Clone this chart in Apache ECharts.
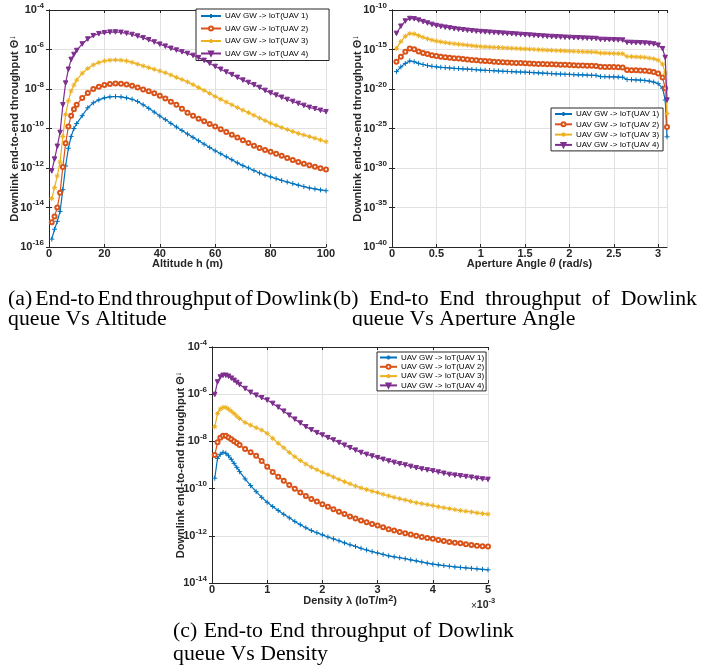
<!DOCTYPE html>
<html>
<head>
<meta charset="utf-8">
<script src="https://cdn.jsdelivr.net/npm/echarts@6.0.0/dist/echarts.min.js"></script>
<style>
html, body { margin: 0; padding: 0; background: #fff; }
#chart { width: 722px; height: 670px; }
</style>
</head>
<body>
<div id="chart"></div>
<script>
var seriesNames = ['UAV GW -> IoT(UAV 1)', 'UAV GW -> IoT(UAV 2)', 'UAV GW -> IoT(UAV 3)', 'UAV GW -> IoT(UAV 4)'];

// y values below are log10 of the throughput (the axes are logarithmic)

// (a) altitude h (m)
var altitudeA = [1, 2, 3, 4, 5, 6, 7, 8, 9, 10, 12, 14, 16, 18, 20, 22, 24, 26, 28, 30, 32, 34, 36, 38, 40, 42, 44, 46, 48, 50,
    52, 54, 56, 58, 60, 62, 64, 66, 68, 70, 72, 74, 76, 78, 80, 82, 84, 86, 88, 90, 92, 94, 96, 98, 100];
var uav1A = [-15.6, -15.1, -14.7, -14.2, -13.1, -11.9, -11.0, -10.4, -10.0, -9.75, -9.35, -8.95, -8.7, -8.55, -8.45, -8.4, -8.38, -8.4, -8.45, -8.52,
    -8.63, -8.8, -8.98, -9.17, -9.37, -9.55, -9.74, -9.92, -10.1, -10.28, -10.45, -10.62, -10.79, -10.96, -11.13, -11.28, -11.43, -11.58, -11.74, -11.88,
    -12.0, -12.13, -12.25, -12.36, -12.45, -12.54, -12.63, -12.71, -12.79, -12.87, -12.94, -13.01, -13.06, -13.11, -13.15];
var uav2A = [-14.75, -14.45, -14.0, -13.25, -11.95, -10.75, -9.9, -9.35, -9.02, -8.8, -8.45, -8.2, -8.0, -7.88, -7.8, -7.75, -7.72, -7.73, -7.77, -7.83,
    -7.92, -8.02, -8.12, -8.22, -8.34, -8.48, -8.64, -8.8, -9.0, -9.2, -9.36, -9.5, -9.63, -9.77, -9.9, -10.04, -10.18, -10.32, -10.46, -10.6,
    -10.73, -10.87, -10.99, -11.09, -11.18, -11.28, -11.38, -11.49, -11.6, -11.7, -11.78, -11.86, -11.94, -12.01, -12.07];
var uav3A = [-13.55, -13.0, -12.4, -11.7, -10.4, -9.3, -8.6, -8.1, -7.8, -7.55, -7.2, -6.96, -6.78, -6.66, -6.58, -6.54, -6.53, -6.54, -6.58, -6.65,
    -6.74, -6.83, -6.92, -7.0, -7.09, -7.18, -7.29, -7.41, -7.52, -7.64, -7.78, -7.93, -8.07, -8.22, -8.38, -8.52, -8.66, -8.8, -8.94, -9.07,
    -9.2, -9.33, -9.47, -9.6, -9.73, -9.84, -9.95, -10.05, -10.15, -10.25, -10.33, -10.41, -10.49, -10.58, -10.67];
var uav4A = [-12.15, -11.55, -10.9, -10.2, -8.8, -7.7, -7.0, -6.5, -6.25, -6.05, -5.72, -5.47, -5.3, -5.2, -5.15, -5.12, -5.11, -5.13, -5.18, -5.24,
    -5.32, -5.41, -5.51, -5.62, -5.73, -5.83, -5.94, -6.03, -6.12, -6.2, -6.3, -6.41, -6.55, -6.7, -6.86, -7.0, -7.14, -7.27, -7.41, -7.55,
    -7.67, -7.79, -7.92, -8.07, -8.2, -8.31, -8.42, -8.53, -8.63, -8.73, -8.83, -8.93, -9.0, -9.08, -9.15];

// (b) aperture angle theta (rad/s)
var angleB = [0.05, 0.1, 0.15, 0.2, 0.25, 0.3, 0.35, 0.4, 0.45, 0.5, 0.55, 0.6, 0.65, 0.7, 0.75, 0.8, 0.85, 0.9, 0.95, 1,
    1.05, 1.1, 1.15, 1.2, 1.25, 1.3, 1.35, 1.4, 1.45, 1.5, 1.55, 1.6, 1.65, 1.7, 1.75, 1.8, 1.85, 1.9, 1.95, 2,
    2.05, 2.1, 2.15, 2.2, 2.25, 2.3, 2.35, 2.4, 2.45, 2.5, 2.55, 2.6, 2.65, 2.7, 2.75, 2.8, 2.85, 2.9, 2.95, 3,
    3.05, 3.08, 3.1];
var uav1B = [-17.8, -17.2, -16.76, -16.45, -16.55, -16.75, -16.9, -17.03, -17.12, -17.19, -17.25, -17.3, -17.34, -17.38, -17.41, -17.45, -17.48, -17.52, -17.56, -17.6,
    -17.63, -17.66, -17.69, -17.72, -17.75, -17.78, -17.8, -17.83, -17.85, -17.87, -17.9, -17.93, -17.96, -17.99, -18.02, -18.05, -18.08, -18.1, -18.13, -18.15,
    -18.18, -18.2, -18.22, -18.24, -18.26, -18.28, -18.43, -18.44, -18.46, -18.47, -18.49, -18.51, -18.8, -18.82, -18.85, -18.88, -18.92, -19.0, -19.12, -19.32,
    -19.9, -21.4, -26.05];
var uav2B = [-16.55, -15.92, -15.3, -14.88, -14.97, -15.25, -15.43, -15.58, -15.72, -15.83, -15.92, -15.99, -16.05, -16.1, -16.15, -16.2, -16.25, -16.32, -16.37, -16.42,
    -16.46, -16.5, -16.54, -16.58, -16.61, -16.64, -16.67, -16.7, -16.72, -16.74, -16.77, -16.79, -16.82, -16.84, -16.86, -16.88, -16.9, -16.92, -16.94, -16.96,
    -16.99, -17.01, -17.03, -17.05, -17.07, -17.09, -17.19, -17.2, -17.21, -17.23, -17.25, -17.27, -17.6, -17.62, -17.64, -17.67, -17.7, -17.76, -17.86, -18.05,
    -18.55, -19.9, -24.8];
var uav3B = [-14.86, -14.0, -13.32, -12.98, -13.02, -13.25, -13.45, -13.65, -13.8, -13.93, -14.03, -14.12, -14.2, -14.27, -14.33, -14.39, -14.45, -14.52, -14.58, -14.63,
    -14.66, -14.69, -14.72, -14.75, -14.78, -14.81, -14.84, -14.87, -14.9, -14.93, -14.96, -14.99, -15.02, -15.05, -15.08, -15.1, -15.13, -15.15, -15.18, -15.2,
    -15.23, -15.25, -15.28, -15.3, -15.32, -15.34, -15.45, -15.46, -15.48, -15.5, -15.52, -15.54, -15.88, -15.9, -15.93, -15.96, -16.0, -16.08, -16.18, -16.35,
    -16.85, -18.0, -23.1];
var uav4B = [-12.96, -12.05, -11.4, -11.08, -11.12, -11.28, -11.47, -11.65, -11.82, -11.97, -12.08, -12.18, -12.27, -12.36, -12.44, -12.5, -12.57, -12.63, -12.68, -12.73,
    -12.77, -12.81, -12.85, -12.89, -12.93, -12.97, -13.01, -13.05, -13.09, -13.13, -13.17, -13.21, -13.25, -13.29, -13.33, -13.36, -13.39, -13.42, -13.45, -13.47,
    -13.5, -13.52, -13.55, -13.57, -13.59, -13.61, -13.72, -13.73, -13.75, -13.77, -13.79, -13.81, -14.1, -14.11, -14.13, -14.15, -14.18, -14.22, -14.3, -14.45,
    -14.9, -16.0, -21.4];

// (c) density lambda (IoT/m^2), in units of 1e-3
var densityC = [0.05, 0.1, 0.15, 0.2, 0.25, 0.3, 0.35, 0.4, 0.45, 0.5, 0.6, 0.7, 0.8, 0.9, 1.0, 1.1, 1.2, 1.3, 1.4, 1.5,
    1.6, 1.7, 1.8, 1.9, 2.0, 2.1, 2.2, 2.3, 2.4, 2.5, 2.6, 2.7, 2.8, 2.9, 3.0, 3.1, 3.2, 3.3, 3.4, 3.5,
    3.6, 3.7, 3.8, 3.9, 4.0, 4.1, 4.2, 4.3, 4.4, 4.5, 4.6, 4.7, 4.8, 4.9, 5.0];
var uav1C = [-9.56, -8.72, -8.55, -8.46, -8.5, -8.61, -8.76, -8.93, -9.1, -9.28, -9.59, -9.87, -10.13, -10.37, -10.58, -10.76, -10.93, -11.09, -11.24, -11.39,
    -11.53, -11.66, -11.78, -11.87, -11.96, -12.05, -12.13, -12.21, -12.3, -12.38, -12.45, -12.53, -12.6, -12.67, -12.73, -12.79, -12.85, -12.89, -12.93, -12.97,
    -13.02, -13.06, -13.11, -13.16, -13.2, -13.23, -13.26, -13.29, -13.32, -13.34, -13.36, -13.38, -13.4, -13.42, -13.44];
var uav2C = [-8.58, -8.04, -7.85, -7.76, -7.76, -7.83, -7.91, -7.99, -8.07, -8.15, -8.32, -8.46, -8.61, -8.83, -9.07, -9.3, -9.5, -9.67, -9.85, -10.01,
    -10.16, -10.31, -10.44, -10.55, -10.66, -10.77, -10.88, -10.98, -11.08, -11.18, -11.27, -11.35, -11.43, -11.5, -11.56, -11.64, -11.72, -11.78, -11.84, -11.89,
    -11.95, -12.0, -12.05, -12.09, -12.13, -12.18, -12.22, -12.26, -12.29, -12.32, -12.36, -12.39, -12.42, -12.44, -12.45];
var uav3C = [-7.38, -6.82, -6.63, -6.56, -6.56, -6.63, -6.72, -6.82, -6.93, -7.03, -7.2, -7.31, -7.42, -7.52, -7.66, -7.87, -8.08, -8.27, -8.47, -8.65,
    -8.81, -8.96, -9.09, -9.2, -9.31, -9.41, -9.51, -9.61, -9.71, -9.8, -9.89, -9.97, -10.04, -10.11, -10.17, -10.24, -10.31, -10.37, -10.43, -10.48,
    -10.54, -10.6, -10.64, -10.68, -10.72, -10.77, -10.81, -10.85, -10.89, -10.93, -10.96, -10.99, -11.03, -11.06, -11.08];
var uav4C = [-6.01, -5.48, -5.27, -5.2, -5.2, -5.24, -5.32, -5.41, -5.5, -5.59, -5.76, -5.92, -6.04, -6.15, -6.25, -6.39, -6.55, -6.72, -6.89, -7.06,
    -7.22, -7.38, -7.51, -7.63, -7.73, -7.84, -7.94, -8.05, -8.16, -8.27, -8.37, -8.47, -8.55, -8.62, -8.69, -8.76, -8.83, -8.89, -8.95, -9.0,
    -9.06, -9.12, -9.17, -9.21, -9.25, -9.3, -9.35, -9.4, -9.43, -9.46, -9.49, -9.52, -9.56, -9.59, -9.61];

var captionA = ['(a) End-to End throughput of Dowlink', 'queue Vs Altitude'];
var captionB = ['(b) End-to End throughput of Dowlink', 'queue Vs Aperture Angle'];
var captionC = ['(c) End-to End throughput of Dowlink', 'queue Vs Density'];

var colors = ['#0072BD', '#D95319', '#EDB120', '#7E2F8E'];
var symbols = [
    'path://M0,3L6,3M3,0L3,6',
    'emptyCircle',
    'path://M3,0L3,6M0,3L6,3M0.9,0.9L5.1,5.1M5.1,0.9L0.9,5.1',
    'path://M0,0L6,0L3,5.2Z'
];
var symbolSizes = [5, 4, 5, 4.5];

var F = '"Liberation Sans", Arial, Helvetica, sans-serif';
var SERIF = '"Liberation Serif", "Times New Roman", serif';
var ink = '#262626';

function makeSeries(xs, ys, k, idx) {
    return {
        type: 'line',
        name: seriesNames[k],
        xAxisIndex: idx,
        yAxisIndex: idx,
        data: xs.map(function (x, i) { return [x, ys[i]]; }),
        symbol: symbols[k],
        symbolSize: symbolSizes[k],
        showSymbol: true,
        lineStyle: { color: colors[k], width: 1.2 },
        itemStyle: { color: colors[k], borderColor: colors[k], borderWidth: 1 },
        animation: false,
        silent: true,
        z: 3 + k
    };
}

var tickRich = {
    b: { fontSize: 11, fontWeight: 'bold', fontFamily: F, color: ink, lineHeight: 14, verticalAlign: 'bottom' },
    s: { fontSize: 8, fontWeight: 'bold', fontFamily: F, color: ink, lineHeight: 8, verticalAlign: 'top' }
};
var nameRich = {
    s: { fontSize: 9, fontWeight: 'bold', fontFamily: F, color: ink, lineHeight: 9, verticalAlign: 'top' },
    i: { fontSize: 12, fontStyle: 'italic', fontFamily: SERIF, color: ink, lineHeight: 14 }
};

function xAxisPair(gi, min, max, interval, name, gap) {
    var bottom = {
        type: 'value', gridIndex: gi, position: 'bottom', min: min, max: max, interval: interval,
        name: name, nameLocation: 'middle', nameGap: gap, nameMoveOverlap: false,
        nameTextStyle: { fontSize: 11, fontWeight: 'bold', fontFamily: F, color: ink, lineHeight: 14, rich: nameRich },
        axisLine: { show: true, lineStyle: { color: ink, width: 1 } },
        axisTick: { show: true, inside: true, length: 3, lineStyle: { color: ink } },
        axisLabel: { margin: 1, fontSize: 11, fontWeight: 'bold', fontFamily: F, color: ink, showMaxLabel: max % interval === 0 },
        splitLine: { show: true, lineStyle: { color: '#e2e2e2', width: 1 } }
    };
    var top = {
        type: 'value', gridIndex: gi, position: 'top', min: min, max: max, interval: interval,
        axisLine: { show: true, lineStyle: { color: ink, width: 1 } },
        axisTick: { show: true, inside: true, length: 3, lineStyle: { color: ink } },
        axisLabel: { show: false },
        splitLine: { show: false }
    };
    return [bottom, top];
}

function yAxisPair(gi, min, max, interval, gap) {
    var left = {
        type: 'value', gridIndex: gi, position: 'left', min: min, max: max, interval: interval,
        name: 'Downlink end-to-end throughput Θ{s|↓}', nameLocation: 'middle', nameGap: gap, nameMoveOverlap: false,
        nameTextStyle: { fontSize: 11, fontWeight: 'bold', fontFamily: F, color: ink, lineHeight: 14, rich: nameRich },
        axisLine: { show: true, lineStyle: { color: ink, width: 1 } },
        axisTick: { show: true, inside: true, length: 3, lineStyle: { color: ink } },
        axisLabel: {
            margin: 5, rich: tickRich, padding: [0, 0, 3, 0],
            formatter: function (v) { return '{b|10}{s|' + v + '}'; }
        },
        splitLine: { show: true, lineStyle: { color: '#e2e2e2', width: 1 } }
    };
    var right = {
        type: 'value', gridIndex: gi, position: 'right', min: min, max: max, interval: interval,
        axisLine: { show: true, lineStyle: { color: ink, width: 1 } },
        axisTick: { show: true, inside: true, length: 3, lineStyle: { color: ink } },
        axisLabel: { show: false },
        splitLine: { show: false }
    };
    return [left, right];
}

var xa = xAxisPair(0, 0, 100, 20, 'Altitude h (m)', 10);
var xb = xAxisPair(1, 0, 3.1, 0.5, 'Aperture Angle {i|θ} (rad/s)', 10);
var xc = xAxisPair(2, 0, 5, 1, 'Density λ (IoT/m{s|2})', 11);
var ya = yAxisPair(0, -16, -4, 2, 27);
var yb = yAxisPair(1, -40, -10, 5, 27);
var yc = yAxisPair(2, -14, -4, 2, 24);

function legendAt(left, top, itemWidth, itemGap, padding) {
    return {
        data: seriesNames, orient: 'vertical', left: left, top: top,
        itemWidth: itemWidth, itemHeight: 5, itemGap: itemGap, padding: padding,
        backgroundColor: '#fff', borderColor: ink, borderWidth: 1, borderRadius: 0,
        selectedMode: false,
        textStyle: { fontSize: 8, fontFamily: F, color: '#000', lineHeight: 8, padding: [0, 0, 0, -1] }
    };
}

// caption text drawn as graphic elements, glyphs widened a little like the print
var measureCtx = document.createElement('canvas').getContext('2d');
var capFont = '20px ' + SERIF;
var capScale = 1.09;
function textWidth(str) { measureCtx.font = capFont; return measureCtx.measureText(str).width; }
function capText(str, x, y) {
    return { type: 'text', x: x, y: y, scaleX: capScale, silent: true, z: 1,
        style: { text: str, x: 0, y: 0, font: capFont, fill: '#000', align: 'left', verticalAlign: 'middle' } };
}
function justifiedLine(str, left, right, y) {
    var words = str.split(' ');
    var total = 0;
    words.forEach(function (w) { total += textWidth(w) * capScale; });
    var gap = (right - left - total) / (words.length - 1);
    var out = [];
    var x = left;
    words.forEach(function (w) {
        out.push(capText(w, x, y));
        x += textWidth(w) * capScale + gap;
    });
    return out;
}

var graphics = [].concat(
    justifiedLine(captionA[0], 8, 332, 300),
    [capText(captionA[1], 8, 320)],
    justifiedLine(captionB[0], 333, 697, 300),
    [capText(captionB[1], 352, 320)],
    justifiedLine(captionC[0], 173, 514, 632),
    [capText(captionC[1], 173, 655)],
    [{ type: 'rect', z: 20, silent: true, shape: { x: 345, y: 326, width: 200, height: 10 }, style: { fill: '#fff' } }],
    [{ type: 'text', x: 471, y: 604, silent: true,
        style: { text: '{x|×}{b|10}{s|-3}', verticalAlign: 'middle',
            rich: {
                x: { fontSize: 10, fontFamily: F, fill: ink, lineHeight: 14, verticalAlign: 'bottom' },
                b: { fontSize: 10.5, fontWeight: 'bold', fontFamily: F, fill: ink, lineHeight: 14, verticalAlign: 'bottom' },
                s: { fontSize: 7.5, fontWeight: 'bold', fontFamily: F, fill: ink, lineHeight: 8, verticalAlign: 'top' }
            } } }]
);

var option = {
    backgroundColor: '#fff',
    animation: false,
    grid: [
        { left: 49, top: 10, width: 277, height: 237, outerBoundsMode: 'none' },
        { left: 392, top: 10, width: 275, height: 237, outerBoundsMode: 'none' },
        { left: 212, top: 347, width: 276, height: 236, outerBoundsMode: 'none' }
    ],
    xAxis: [xa[0], xb[0], xc[0], xa[1], xb[1], xc[1]],
    yAxis: [ya[0], yb[0], yc[0], ya[1], yb[1], yc[1]],
    legend: [
        legendAt(196, 9, 20, 4.5, [3, 21, 3, 4]),
        legendAt(551, 108, 17, 2.3, [2, 4, 2, 3]),
        legendAt(377, 352, 17, 1.3, [1.5, 2, 1.5, 2])
    ],
    series: [
        makeSeries(altitudeA, uav1A, 0, 0), makeSeries(altitudeA, uav2A, 1, 0),
        makeSeries(altitudeA, uav3A, 2, 0), makeSeries(altitudeA, uav4A, 3, 0),
        makeSeries(angleB, uav1B, 0, 1), makeSeries(angleB, uav2B, 1, 1),
        makeSeries(angleB, uav3B, 2, 1), makeSeries(angleB, uav4B, 3, 1),
        makeSeries(densityC, uav1C, 0, 2), makeSeries(densityC, uav2C, 1, 2),
        makeSeries(densityC, uav3C, 2, 2), makeSeries(densityC, uav4C, 3, 2)
    ],
    graphic: graphics
};

var chart = echarts.init(document.getElementById('chart'));
chart.setOption(option);
</script>
</body>
</html>
